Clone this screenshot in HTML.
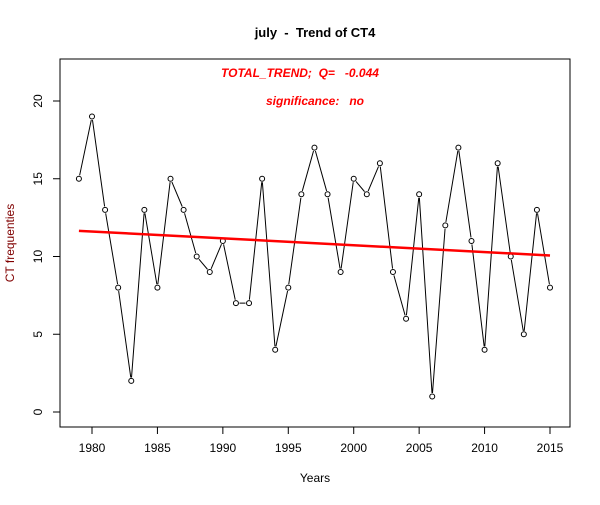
<!DOCTYPE html>
<html><head><meta charset="utf-8"><style>
body{margin:0;background:#fff}
svg text{font-family:"Liberation Sans",Arial,sans-serif}
</style></head><body>
<svg id="chart" width="600" height="500" xmlns="http://www.w3.org/2000/svg">
<rect width="600" height="500" fill="#fff"/>
<text x="315" y="37" text-anchor="middle" font-size="13" font-weight="bold" xml:space="preserve">july  -  Trend of CT4</text>
<rect x="60" y="59" width="510" height="368" fill="none" stroke="#000"/>
<text x="300" y="77" text-anchor="middle" font-size="12" font-weight="bold" font-style="italic" fill="#f00" xml:space="preserve">TOTAL_TREND;  Q=   -0.044</text>
<text x="315" y="105" text-anchor="middle" font-size="12" font-weight="bold" font-style="italic" fill="#f00" xml:space="preserve">significance:   no</text>
<text x="315" y="482" text-anchor="middle" font-size="12">Years</text>
<text x="14" y="243" text-anchor="middle" font-size="12" fill="#800000" transform="rotate(-90 14 243)">CT frequenties</text>
<g id="axes"></g><g id="series"></g>
</svg>
<script>
const years=[1979,1980,1981,1982,1983,1984,1985,1986,1987,1988,1989,1990,1991,1992,1993,1994,1995,1996,1997,1998,1999,2000,2001,2002,2003,2004,2005,2006,2007,2008,2009,2010,2011,2012,2013,2014,2015];
const counts=[15,19,13,8,2,13,8,15,13,10,9,11,7,7,15,4,8,14,17,14,9,15,14,16,9,6,14,1,12,17,11,4,16,10,5,13,8];
const xTicks=[1980,1985,1990,1995,2000,2005,2010,2015];
const yTicks=[0,5,10,15,20];
const trendStart=11.65;
const trendSlope=-0.044;
const ns="http://www.w3.org/2000/svg";
const X=v=>92+(v-1980)*(550-92)/35;
const Y=v=>412-v*(412-101)/20;
const ax=document.getElementById('axes'),se=document.getElementById('series');
function mk(t,a,p){const e=document.createElementNS(ns,t);for(const k in a)e.setAttribute(k,a[k]);p.appendChild(e);return e;}
const xl=mk('line',{x1:X(xTicks[0]),x2:X(xTicks[xTicks.length-1]),y1:427,y2:427,stroke:'#000'},ax);


xTicks.forEach(t=>{const l=mk('line',{x1:X(t),x2:X(t),y1:427,y2:434,stroke:'#000'},ax);


const tx=mk('text',{x:X(t),y:452,'text-anchor':'middle','font-size':12},ax);tx.textContent=t;

});
const yl=mk('line',{x1:60,x2:60,y1:Y(yTicks[0]),y2:Y(yTicks[yTicks.length-1]),stroke:'#000'},ax);


yTicks.forEach(t=>{const l=mk('line',{x1:53,x2:60,y1:Y(t),y2:Y(t),stroke:'#000'},ax);


const tx=mk('text',{x:42,y:Y(t),'text-anchor':'middle','font-size':12,transform:`rotate(-90 42 ${Y(t)})`},ax);tx.textContent=t;

});
const segs=[];
for(let i=0;i<years.length-1;i++){const x1=X(years[i]),y1=Y(counts[i]),x2=X(years[i+1]),y2=Y(counts[i+1]);const d=Math.hypot(x2-x1,y2-y1),g=3.5/d;
segs.push(`M${x1+(x2-x1)*g},${y1+(y2-y1)*g}L${x2-(x2-x1)*g},${y2-(y2-y1)*g}`);}
const ln=mk('path',{d:segs.join(''),stroke:'#000',fill:'none'},se);


years.forEach((y,i)=>{const c=mk('circle',{cx:X(y),cy:Y(counts[i]),r:2.5,fill:'none',stroke:'#000'},se);

});
const y0=years[0],y1=years[years.length-1];
const tr=mk('line',{x1:X(y0),y1:Y(trendStart),x2:X(y1),y2:Y(trendStart+trendSlope*(y1-y0)),stroke:'#f00','stroke-width':2.5},se);


</script>
</body></html>
